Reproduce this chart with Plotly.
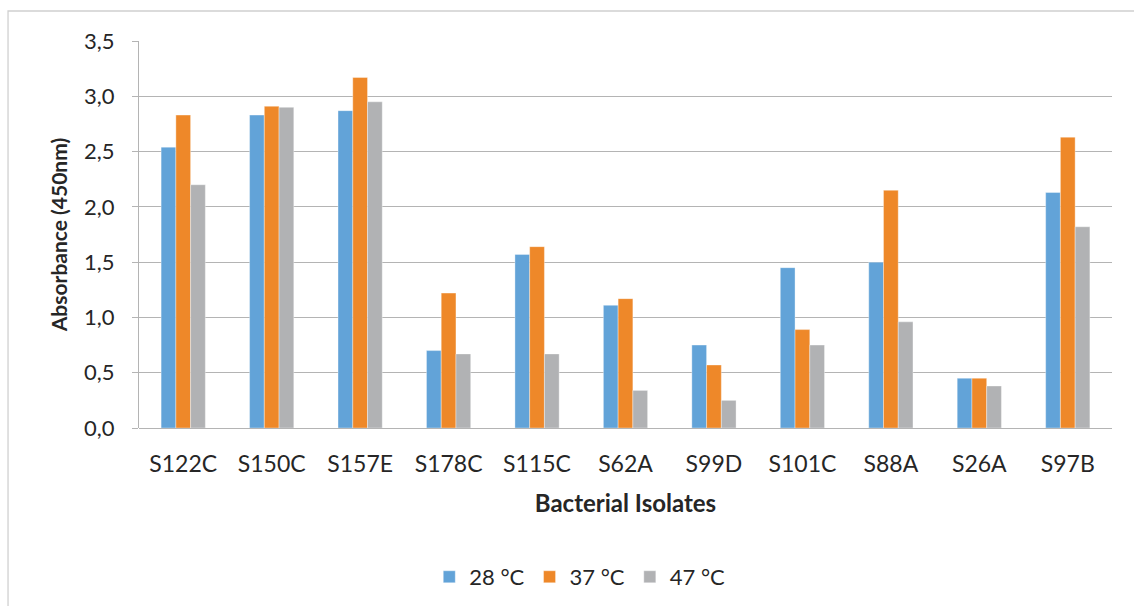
import plotly.graph_objects as go

# Isolates and absorbance readings (450 nm) at three incubation temperatures
isolates = ["S122C", "S150C", "S157E", "S178C", "S115C", "S62A",
            "S99D", "S101C", "S88A", "S26A", "S97B"]
abs_28 = [2.54, 2.83, 2.87, 0.70, 1.57, 1.11, 0.75, 1.45, 1.50, 0.45, 2.13]
abs_37 = [2.83, 2.91, 3.17, 1.22, 1.64, 1.17, 0.57, 0.89, 2.15, 0.45, 2.63]
abs_47 = [2.20, 2.90, 2.95, 0.67, 0.67, 0.34, 0.25, 0.75, 0.96, 0.38, 1.82]
series_names = ["28 °C", "37 °C", "47 °C"]
colors = ["#62A3D8", "#EE8829", "#B1B2B4"]

FONT = "Lato"
TEXT = "#262626"
GRID = "#B4B4B4"

fig = go.Figure()
for name, vals, col in zip(series_names, [abs_28, abs_37, abs_47], colors):
    fig.add_trace(go.Bar(
        x=isolates, y=vals, name=name,
        marker=dict(color=col, line=dict(width=0.6, color="rgba(255,255,255,0.6)")),
    ))

fig.update_layout(
    width=1134, height=606,
    margin=dict(l=139, r=22, t=41, b=178, autoexpand=False),
    paper_bgcolor="white", plot_bgcolor="white",
    separators=",.",
    barmode="group", bargap=0.5, bargroupgap=0,
    font=dict(family=FONT, size=22, color=TEXT),
    showlegend=True,
    legend=dict(
        orientation="h", x=0.453, xanchor="center", y=-0.385, yanchor="middle",
        font=dict(family=FONT, size=22, color=TEXT),
        itemwidth=30, traceorder="normal",
    ),
    xaxis=dict(
        showgrid=False, showline=False, ticks="", automargin=False,
        tickfont=dict(family=FONT, size=23, color=TEXT),
        ticklabelstandoff=20,
        title=dict(text="<b>Bacterial Isolates</b>", font=dict(family=FONT, size=24, color=TEXT),
                   standoff=19),
    ),
    yaxis=dict(
        range=[0, 3.5], tickvals=[0, 0.5, 1, 1.5, 2, 2.5, 3, 3.5], tickformat=".1f",
        showgrid=True, gridcolor=GRID, gridwidth=1.3, automargin=False,
        zeroline=True, zerolinecolor=GRID, zerolinewidth=1.3,
        showline=True, linecolor=GRID, linewidth=1.3,
        ticks="outside", ticklen=6, tickcolor=GRID, tickwidth=1.3,
        tickfont=dict(family=FONT, size=22, color=TEXT),
        ticklabelstandoff=13,
        title=dict(text="<b>Absorbance (450nm)</b>", font=dict(family=FONT, size=21, color=TEXT),
                   standoff=10),
    ),
)

# Chart-area border
fig.add_shape(type="rect", xref="paper", yref="paper",
              x0=-0.1346, x1=1.2, y0=-0.6, y1=1.0775,
              line=dict(color="#D0D0D0", width=1.3), fillcolor="rgba(0,0,0,0)", layer="below")

fig.write_html("out.html")
